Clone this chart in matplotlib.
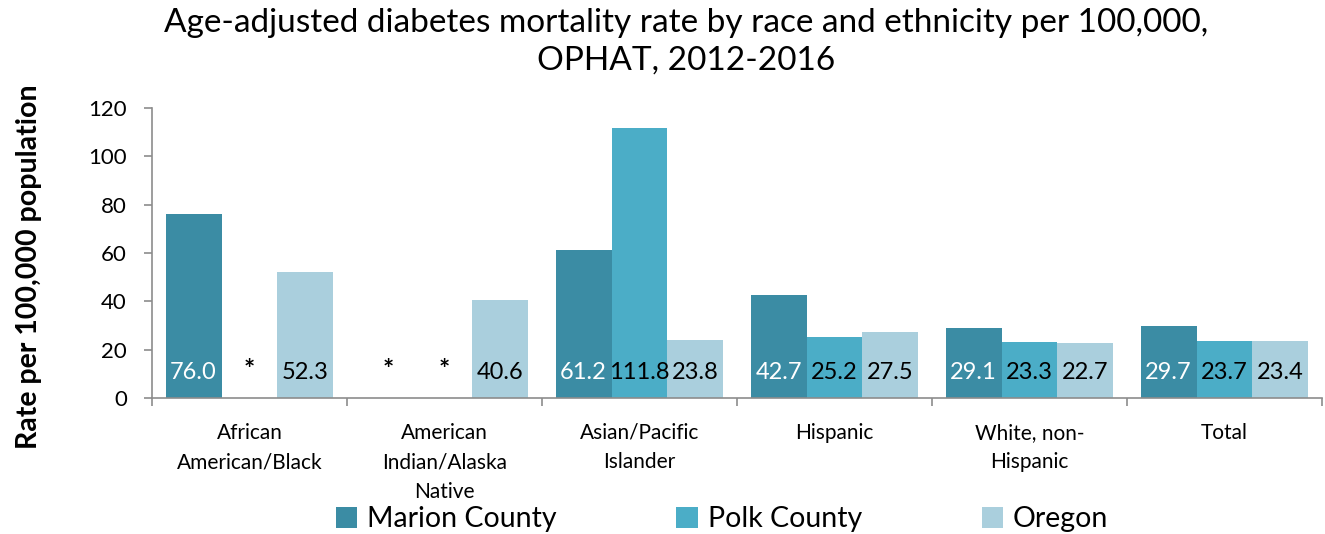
import matplotlib
matplotlib.use("Agg")
import matplotlib.pyplot as plt
from matplotlib.patches import Patch
import numpy as np

plt.rcParams["font.family"] = ["Lato", "DejaVu Sans"]

categories = [
    "African\nAmerican/Black",
    "American\nIndian/Alaska\nNative",
    "Asian/Pacific\nIslander",
    "Hispanic",
    "White, non-\nHispanic",
    "Total",
]
series_names = ["Marion County", "Polk County", "Oregon"]
marion = [76.0, None, 61.2, 42.7, 29.1, 29.7]
polk = [None, None, 111.8, 25.2, 23.3, 23.7]
oregon = [52.3, 40.6, 23.8, 27.5, 22.7, 23.4]
colors = ["#3B8CA4", "#4BADC7", "#AACFDD"]
label_colors = ["white", "black", "black"]

fig = plt.figure(figsize=(13.25, 5.34), dpi=100)
ax = fig.add_axes([152 / 1325, 1 - 398 / 534, 1170 / 1325, 290 / 534])

x = np.arange(len(categories))
width = 0.287
for k, (vals, color, lc) in enumerate(zip([marion, polk, oregon], colors, label_colors)):
    pos = x + (k - 1) * width
    heights = [v if v is not None else 0 for v in vals]
    ax.bar(pos, heights, width=width, color=color, edgecolor="none")
    for p, v in zip(pos, vals):
        if v is None:
            ax.text(p, 11.5, "*", ha="center", va="center", fontsize=19,
                    fontweight="bold", color="black")
        else:
            ax.text(p, 10.5, f"{v:.1f}", ha="center", va="center", fontsize=17, color=lc)

ax.set_xlim(-0.5, len(categories) - 0.5)
ax.set_ylim(0, 120)
ax.set_yticks(range(0, 121, 20))
ax.tick_params(axis="y", labelsize=16, length=6, width=1.2, color="#8c8c8c", pad=12)
ax.set_xticks(np.arange(-0.5, len(categories), 1))
ax.set_xticklabels([])
ax.tick_params(axis="x", length=6, width=1.2, color="#8c8c8c")
for i, cat in enumerate(categories):
    ax.text(i, -10.2, cat, ha="center", va="top", fontsize=15, linespacing=1.6)

for side in ["top", "right"]:
    ax.spines[side].set_visible(False)
for side in ["left", "bottom"]:
    ax.spines[side].set_color("#8c8c8c")
    ax.spines[side].set_linewidth(1.2)

fig.text(0.518, 0.985,
         "Age-adjusted diabetes mortality rate by race and ethnicity per 100,000,\nOPHAT, 2012-2016",
         ha="center", va="top", fontsize=24, linespacing=1.3)
fig.text(0.022, 0.50, "Rate per 100,000 population", rotation=90,
         ha="center", va="center", fontsize=20.5, fontweight="bold")

handles = [Patch(facecolor=c, edgecolor="none") for c in colors]
fig.legend(handles, series_names, loc="center", bbox_to_anchor=(0.545, 0.028),
           ncol=3, frameon=False, fontsize=20.5, handlelength=0.75, handleheight=0.75,
           handletextpad=0.35, columnspacing=4.2, borderaxespad=0)

fig.savefig("out.png", dpi=100)
